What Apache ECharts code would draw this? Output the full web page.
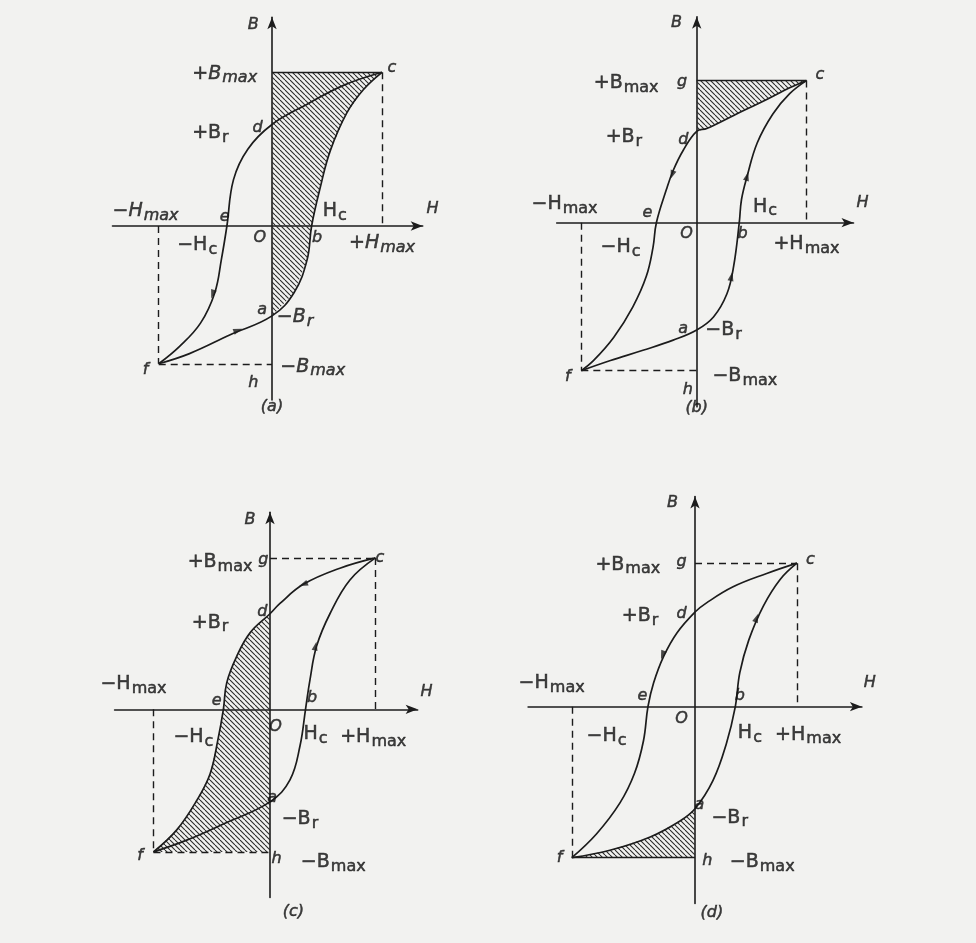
<!DOCTYPE html>
<html>
<head>
<meta charset="utf-8">
<script src="https://cdn.jsdelivr.net/npm/echarts@6/dist/echarts.min.js"></script>
<style>
html,body{margin:0;padding:0;background:#f2f2f0}
#chart{width:976px;height:943px}
</style>
</head>
<body>
<div id="chart"></div>
<script>
// hysteresis loops, H / B in units of Hmax / Bmax
// descending branch runs c -> d -> e -> f, ascending f -> a -> b -> c
var descA = [[1.0,1.06],[0.65,0.97],[0.32,0.84],[0,0.70],[-0.22,0.53],[-0.35,0.32],[-0.41,0],[-0.46,-0.23],[-0.52,-0.46],[-0.65,-0.67],[-0.84,-0.83],[-1.03,-0.95]];
var ascA  = [[-1.03,-0.95],[-0.75,-0.88],[-0.38,-0.75],[0,-0.62],[0.2,-0.46],[0.32,-0.23],[0.36,0],[0.44,0.27],[0.53,0.52],[0.68,0.78],[0.83,0.94],[1.0,1.06]];

var descB = [[0.98,0.98],[0.83,0.93],[0.625,0.85],[0.33,0.74],[0.09,0.65],[0,0.63],[-0.12,0.50],[-0.21,0.36],[-0.27,0.23],[-0.36,0],[-0.39,-0.17],[-0.45,-0.37],[-0.57,-0.58],[-0.74,-0.79],[-0.92,-0.95],[-1.03,-1.02]];
var ascB  = [[-1.03,-1.02],[-0.77,-0.95],[-0.48,-0.88],[-0.21,-0.81],[0,-0.74],[0.15,-0.65],[0.27,-0.49],[0.33,-0.30],[0.38,0],[0.40,0.16],[0.45,0.32],[0.54,0.55],[0.68,0.75],[0.83,0.89],[0.98,0.98]];

var descC = [[0.95,1.03],[0.63,0.96],[0.30,0.85],[0.09,0.72],[0,0.65],[-0.18,0.52],[-0.30,0.36],[-0.39,0.18],[-0.42,0],[-0.47,-0.21],[-0.54,-0.44],[-0.66,-0.62],[-0.84,-0.82],[-1.05,-0.97]];
var ascC  = [[-1.05,-0.97],[-0.75,-0.89],[-0.42,-0.78],[0,-0.63],[0.18,-0.48],[0.27,-0.25],[0.32,0],[0.36,0.20],[0.42,0.43],[0.54,0.65],[0.72,0.88],[0.95,1.03]];

var descD = [[0.91,0.97],[0.64,0.90],[0.34,0.81],[0.10,0.70],[0,0.64],[-0.16,0.50],[-0.28,0.34],[-0.37,0.16],[-0.42,0],[-0.46,-0.23],[-0.54,-0.45],[-0.67,-0.65],[-0.88,-0.86],[-1.10,-1.02]];
var ascD  = [[-1.10,-1.02],[-0.76,-0.97],[-0.40,-0.88],[-0.13,-0.77],[0,-0.69],[0.16,-0.50],[0.28,-0.25],[0.36,0],[0.40,0.23],[0.48,0.45],[0.61,0.68],[0.76,0.86],[0.91,0.97]];

// direction arrows on the curves: [H, B, rotation]
var arrowsA = [[-0.54,-0.47,162],[-0.31,-0.72,-70]];
var arrowsB = [[-0.22,0.33,160],[0.45,0.32,-15],[0.31,-0.37,-12]];
var arrowsC = [[0.30,0.85,112],[0.41,0.43,-12]];
var arrowsD = [[-0.29,0.35,160],[0.55,0.60,-20]];

// annotations: [H, B, text]  ("_" starts a subscript)
var labelsA = [[-0.17,1.39,'B'],[1.46,0.12,'H'],[-0.43,1.05,'+B_max'],[1.09,1.09,'c'],[-0.13,0.68,'d'],[-0.56,0.64,'+B_r'],
  [-1.15,0.10,'−H_max'],[-0.43,0.06,'e'],[0.57,0.10,'H_c'],[-0.11,-0.08,'O'],[0.41,-0.08,'b'],[1.0,-0.12,'+H_max'],
  [-0.68,-0.13,'−H_c'],[-0.09,-0.58,'a'],[0.21,-0.63,'−B_r'],[0.37,-0.97,'−B_max'],[-1.15,-0.99,'f'],[-0.17,-1.08,'h'],[0,-1.25,'(a)']];
var labelsB = [[-0.18,1.38,'B'],[1.48,0.14,'H'],[-0.63,0.96,'+B_max'],[-0.13,0.97,'g'],[1.10,1.02,'c'],[-0.65,0.59,'+B_r'],[-0.12,0.57,'d'],
  [-1.18,0.13,'−H_max'],[-0.44,0.07,'e'],[0.61,0.11,'H_c'],[-0.09,-0.08,'O'],[0.41,-0.08,'b'],[0.98,-0.15,'+H_max'],
  [-0.68,-0.17,'−H_c'],[-0.12,-0.73,'a'],[0.24,-0.74,'−B_r'],[0.43,-1.06,'−B_max'],[-1.15,-1.06,'f'],[-0.08,-1.15,'h'],[0,-1.28,'(b)']];
var labelsC = [[-0.18,1.29,'B'],[1.41,0.12,'H'],[-0.45,1.0,'+B_max'],[-0.06,1.02,'g'],[0.99,1.03,'c'],[-0.54,0.59,'+B_r'],[-0.07,0.66,'d'],
  [-1.23,0.17,'−H_max'],[-0.48,0.06,'e'],[0.38,0.08,'b'],[0.05,-0.12,'O'],[-0.69,-0.19,'−H_c'],[0.41,-0.17,'H_c'],[0.93,-0.19,'+H_max'],
  [0.02,-0.60,'a'],[0.27,-0.75,'−B_r'],[-1.17,-1.0,'f'],[0.06,-1.02,'h'],[0.57,-1.04,'−B_max'],[0.21,-1.38,'(c)']];
var labelsD = [[-0.20,1.38,'B'],[1.56,0.16,'H'],[-0.60,0.96,'+B_max'],[-0.12,0.98,'g'],[1.03,0.99,'c'],[-0.49,0.61,'+B_r'],[-0.12,0.63,'d'],
  [-1.28,0.16,'−H_max'],[-0.47,0.07,'e'],[0.40,0.07,'b'],[-0.12,-0.08,'O'],[-0.79,-0.20,'−H_c'],[0.49,-0.18,'H_c'],[1.01,-0.19,'+H_max'],
  [0.04,-0.66,'a'],[0.31,-0.75,'−B_r'],[-1.21,-1.02,'f'],[0.11,-1.04,'h'],[0.60,-1.05,'−B_max'],[0.15,-1.39,'(d)']];

// layout of the four panels: origin in px, px per unit, axis extents
var panels = [
  {ox:272,   oy:226,   ux:110, uy:145, x:[-1.45,1.37], y:[-1.20,1.44], top:'solid',  bottom:'dashed', italic:['+B_max','−H_max','+H_max','−B_r','−B_max']},
  {ox:696.7, oy:222.7, ux:112, uy:145, x:[-1.25,1.40], y:[-1.27,1.42], top:'solid',  bottom:'dashed', italic:[]},
  {ox:270,   oy:709.3, ux:111, uy:147, x:[-1.40,1.33], y:[-1.28,1.34], top:'dashed', bottom:'dashed', italic:[]},
  {ox:695,   oy:706.7, ux:112, uy:148, x:[-1.49,1.49], y:[-1.33,1.42], top:'dashed', bottom:'solid',  italic:[]}
];
var loops = [[descA,ascA],[descB,ascB],[descC,ascC],[descD,ascD]];
var arrows = [arrowsA,arrowsB,arrowsC,arrowsD];
var labels = [labelsA,labelsB,labelsC,labelsD];

var INK = '#1c1c1c';

// hatch texture "\\\\"
var hc = document.createElement('canvas');
hc.width = 5; hc.height = 5;
var hg = hc.getContext('2d');
hg.strokeStyle = '#2a2a2a';
hg.lineWidth = 1.1;
for (var k = -1; k <= 1; k++) {
  hg.beginPath(); hg.moveTo(k*5, 0); hg.lineTo(k*5+5, 5); hg.stroke();
}
var hatch = {image: hc, repeat: 'repeat'};

function zeroIdx(arr){ for (var i=0;i<arr.length;i++){ if (arr[i][0]===0) return i; } return 0; }

// shaded energy areas of each case
function hatchPoly(i){
  var desc = loops[i][0], asc = loops[i][1];
  var c = desc[0], f = asc[0];
  if (i===0) return [[0,c[1]]].concat(asc.slice(zeroIdx(asc)).reverse());
  if (i===1) return [[0,c[1]]].concat(desc.slice(0, zeroIdx(desc)+1));
  if (i===2) return desc.slice(zeroIdx(desc)).concat([[0,f[1]]]);
  return asc.slice(0, zeroIdx(asc)+1).concat([[0,f[1]]]);
}

function fmt(txt, italic){
  if (txt.length===1 || txt.charAt(0)==='(') return '{l|'+txt+'}';
  var parts = txt.split('_');
  var k = italic ? 'i' : '';
  var s = '{m'+k+'|'+parts[0]+'}';
  if (parts[1]) s += '{s'+k+'|'+parts[1]+'}';
  return s;
}

var FONT = 'DejaVu Sans';
var TXT = '#111';
function ts(size, italic, pad){
  var o = {fontFamily: FONT, fontSize: size, color: TXT, textBorderColor: TXT, textBorderWidth: 0.5};
  if (italic) o.fontStyle = 'italic';
  if (pad) o.padding = [9,0,0,1];
  return o;
}
var rich = {
  m:  ts(19, false, false),
  s:  ts(16, false, true),
  mi: ts(19, true, false),
  si: ts(16, true, true),
  l:  ts(16, true, false)
};

var grids = [], xAxes = [], yAxes = [], series = [];
panels.forEach(function(p, i){
  grids.push({
    left: p.ox + p.x[0]*p.ux,
    top: p.oy - p.y[1]*p.uy,
    width: (p.x[1]-p.x[0])*p.ux,
    height: (p.y[1]-p.y[0])*p.uy,
    containLabel: false,
    outerBoundsMode: 'none'
  });
  var axisCommon = {
    type: 'value',
    gridIndex: i,
    axisLine: {onZero: true, symbol: ['none','arrow'], symbolSize: [7,12], lineStyle: {color: INK, width: 1.6}},
    axisTick: {show: false},
    axisLabel: {show: false},
    splitLine: {show: false}
  };
  xAxes.push(Object.assign({}, axisCommon, {min: p.x[0], max: p.x[1]}));
  yAxes.push(Object.assign({}, axisCommon, {min: p.y[0], max: p.y[1]}));

  var desc = loops[i][0], asc = loops[i][1];
  var c = desc[0], f = asc[0];
  var poly = hatchPoly(i);

  series.push({
    type: 'custom',
    xAxisIndex: i, yAxisIndex: i,
    silent: true,
    z: 1,
    data: poly,
    renderItem: function(params, api){
      if (params.dataIndex !== 0) return;
      return {
        type: 'polygon',
        shape: {points: poly.map(function(pt){ return api.coord(pt); })},
        style: {fill: hatch, stroke: null}
      };
    }
  });

  function seg(a, b, type){
    return [{coord: a, lineStyle: {type: type==='solid' ? 'solid' : [7,5], width: type==='solid' ? 1.3 : 1.4, color: INK}}, {coord: b}];
  }

  [desc, asc].forEach(function(branch, bi){
    var s = {
      type: 'line',
      xAxisIndex: i, yAxisIndex: i,
      data: branch,
      smooth: 0.4,
      symbol: 'none',
      clip: false,
      silent: true,
      z: 3,
      lineStyle: {color: INK, width: 1.7}
    };
    if (bi === 0) {
      s.markLine = {
        silent: true,
        symbol: ['none','none'],
        label: {show: false},
        animation: false,
        data: [
          seg([0, c[1]], [c[0], c[1]], p.top),
          seg([c[0], c[1]], [c[0], 0], 'dashed'),
          seg([f[0], 0], [f[0], f[1]], 'dashed'),
          seg([f[0], f[1]], [0, f[1]], p.bottom)
        ]
      };
    }
    series.push(s);
  });

  series.push({
    type: 'scatter',
    xAxisIndex: i, yAxisIndex: i,
    silent: true,
    clip: false,
    z: 4,
    symbol: 'triangle',
    symbolSize: [6,9],
    itemStyle: {color: INK},
    data: arrows[i].map(function(a){ return {value: [a[0], a[1]], symbolRotate: a[2]}; })
  });

  series.push({
    type: 'scatter',
    xAxisIndex: i, yAxisIndex: i,
    silent: true,
    clip: false,
    z: 5,
    symbol: 'circle',
    symbolSize: 1,
    itemStyle: {color: 'rgba(0,0,0,0)'},
    label: {
      show: true,
      position: 'inside',
      color: TXT,
      formatter: function(prm){ return fmt(prm.name, p.italic.indexOf(prm.name) >= 0); },
      rich: rich
    },
    labelLayout: {hideOverlap: false},
    data: labels[i].map(function(l){ return {value: [l[0], l[1]], name: l[2]}; })
  });
});

var chart = echarts.init(document.getElementById('chart'), null, {renderer: 'canvas'});
chart.setOption({
  backgroundColor: '#f2f2f0',
  animation: false,
  grid: grids,
  xAxis: xAxes,
  yAxis: yAxes,
  series: series
});
</script>
</body>
</html>
